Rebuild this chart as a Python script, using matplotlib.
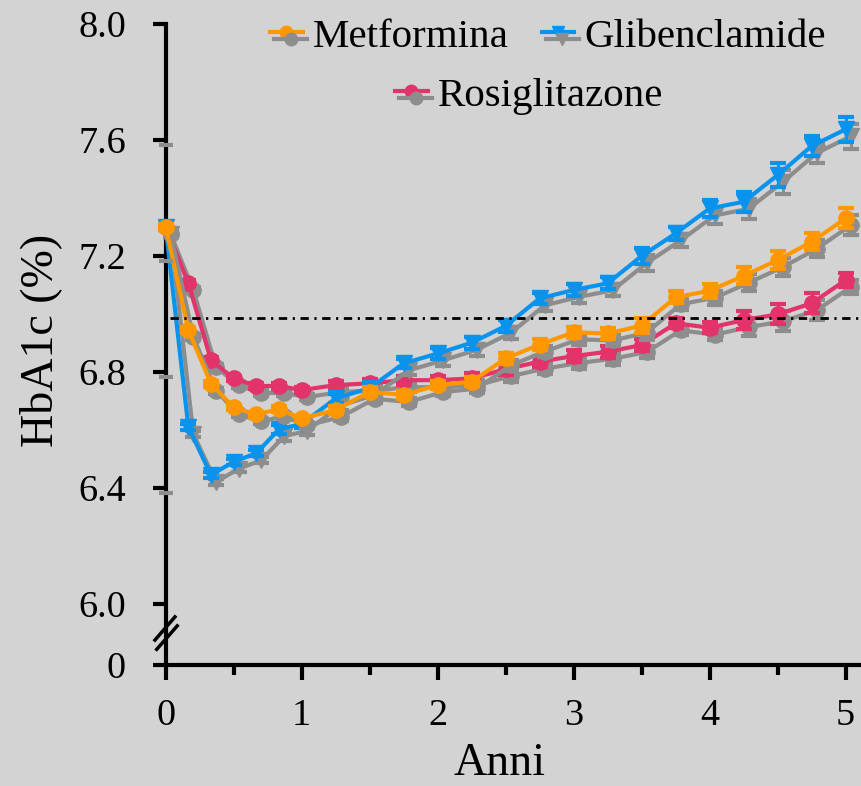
import numpy as np
import matplotlib
matplotlib.use('Agg')
import matplotlib.pyplot as plt
import matplotlib.transforms as mtransforms
from matplotlib.lines import Line2D
from matplotlib.legend_handler import HandlerLine2D
from matplotlib.ticker import MultipleLocator

plt.rcParams['font.family'] = 'Liberation Serif'

# tempo (anni)
anni = [0, 1/6, 1/3, 0.5, 2/3, 5/6, 1.0, 1.25, 1.5, 1.75, 2.0, 2.25, 2.5,
        2.75, 3.0, 3.25, 3.5, 3.75, 4.0, 4.25, 4.5, 4.75, 5.0]

# HbA1c medio (%)
metformina = [7.30, 6.945, 6.76, 6.678, 6.654, 6.672, 6.64, 6.669, 6.732, 6.721, 6.755, 6.767,
              6.847, 6.895, 6.937, 6.933, 6.96, 7.058, 7.08, 7.132, 7.186, 7.249, 7.33]
glibenclamide = [7.30, 6.611, 6.445, 6.491, 6.52, 6.603, 6.621, 6.709, 6.745, 6.83, 6.864, 6.901,
                 6.959, 7.054, 7.083, 7.106, 7.20, 7.278, 7.364, 7.387, 7.479, 7.579, 7.637]
rosiglitazone = [7.30, 7.106, 6.841, 6.778, 6.752, 6.752, 6.738, 6.755, 6.761, 6.772, 6.772, 6.778,
                 6.81, 6.836, 6.855, 6.87, 6.893, 6.968, 6.953, 6.979, 6.999, 7.037, 7.117]

# errore standard
err_met = [0.01, 0.01, 0.01, 0.01, 0.01, 0.01, 0.01, 0.015, 0.015, 0.015, 0.015, 0.015,
           0.02, 0.02, 0.02, 0.02, 0.025, 0.02, 0.025, 0.029, 0.032, 0.029, 0.034]
err_gli = [0.01, 0.01, 0.01, 0.01, 0.01, 0.015, 0.015, 0.015, 0.015, 0.015, 0.02, 0.02,
           0.02, 0.02, 0.02, 0.02, 0.026, 0.023, 0.029, 0.034, 0.04, 0.034, 0.044]
err_ros = [0.01, 0.01, 0.01, 0.01, 0.01, 0.01, 0.01, 0.015, 0.015, 0.015, 0.015, 0.02,
           0.02, 0.02, 0.02, 0.02, 0.02, 0.017, 0.02, 0.032, 0.034, 0.034, 0.025]

target = 6.985
ytick_pos = [5.79, 6.0, 6.4, 6.8, 7.2, 7.6, 8.0]
ytick_lab = ['0', '6.0', '6.4', '6.8', '7.2', '7.6', '8.0']

BG = '#d3d3d3'
GRAY = '#8d8d8d'
ORANGE = '#ff9800'
BLUE = '#0a93ec'
RED = '#e2336b'


class ShadowHandler(HandlerLine2D):
    # linea colorata + copia grigia spostata
    def create_artists(self, legend, orig_handle, xdescent, ydescent, width, height, fontsize, trans):
        col, grey = orig_handle
        a = super().create_artists(legend, col, xdescent, ydescent, width, height, fontsize, trans)
        b = super().create_artists(legend, grey, xdescent - 3, ydescent + 10, width, height, fontsize, trans)
        return a + b


fig = plt.figure(figsize=(8.62, 7.86), dpi=100, facecolor=BG)
ax = fig.add_axes([0.1922, 0.1539, 0.8078, 0.8156])
ax.set_facecolor(BG)

shadow = mtransforms.offset_copy(ax.transData, fig=fig, x=5, y=-7, units='dots')

series = [(rosiglitazone, err_ros, RED, 'o', 11),
          (glibenclamide, err_gli, BLUE, 'v', 12),
          (metformina, err_met, ORANGE, 'o', 11)]
z = 3
for vals, err, col, mk, ms in series:
    for c, tr in [(GRAY, shadow), (col, ax.transData)]:
        ax.errorbar(anni, vals, yerr=err, color=c, marker=mk, ms=ms, mec=c, lw=3,
                    elinewidth=2.2, capsize=5.5, capthick=3, transform=tr,
                    clip_on=False, zorder=z)
        z += 0.5

ax.axhline(target, xmin=0.006, xmax=1, color='black', lw=2, ls=(0, (3, 2, 0.8, 2)), zorder=10)

ax.set_xlim(0, 5.12)
ax.set_ylim(5.79, 8.0)
ax.set_xticks(range(6))
ax.xaxis.set_minor_locator(MultipleLocator(0.5))
ax.set_yticks(ytick_pos)
ax.set_yticklabels(ytick_lab)

for s in ['top', 'right']:
    ax.spines[s].set_visible(False)
for s in ['left', 'bottom']:
    ax.spines[s].set_linewidth(3)

ax.tick_params(axis='y', length=9.5, width=3, pad=19, labelsize=27.5)
ax.tick_params(axis='x', which='major', length=11, width=3, pad=13, labelsize=27.5)
ax.tick_params(axis='x', which='minor', length=7, width=3)

# ombra grigia delle tacche dell'asse y
shadow_y = mtransforms.offset_copy(ax.transData, fig=fig, x=0, y=-5, units='dots')
ax.plot(np.zeros(4), ytick_pos[2:6], ls='none', marker='_', ms=10, mew=3, color=GRAY,
        transform=shadow_y, clip_on=False, zorder=9)

# interruzione dell'asse
ax.plot([-0.079, 0.068], [5.876, 5.956], color='black', lw=2.5, clip_on=False, zorder=10)
ax.plot([-0.066, 0.085], [5.844, 5.925], color='black', lw=2.5, clip_on=False, zorder=10)

ax.set_xlabel('Anni', fontsize=33)
ax.xaxis.set_label_coords(0.48, -0.121)
ax.set_ylabel('HbA1c (%)', fontsize=33)
ax.yaxis.set_label_coords(-0.149, 0.507)

def proxy(col, mk):
    return Line2D([], [], color=col, marker=mk, ms=9, lw=3)

h_met = (proxy(ORANGE, 'o'), proxy(GRAY, 'o'))
h_gli = (proxy(BLUE, 'v'), proxy(GRAY, 'v'))
h_ros = (proxy(RED, 'o'), proxy(GRAY, 'o'))

leg1 = fig.legend([h_met, h_gli], ['Metformina', 'Glibenclamide'], ncol=2,
                  handler_map={tuple: ShadowHandler()}, loc='upper left',
                  bbox_to_anchor=(270 / 862, 1 - 18 / 786), frameon=False, fontsize=29.5,
                  borderpad=0, borderaxespad=0, handlelength=0.8, handletextpad=0.25,
                  columnspacing=0.8)
leg2 = fig.legend([h_ros], ['Rosiglitazone'],
                  handler_map={tuple: ShadowHandler()}, loc='upper left',
                  bbox_to_anchor=(395 / 862, 1 - 77 / 786), frameon=False, fontsize=29.5,
                  borderpad=0, borderaxespad=0, handlelength=0.8, handletextpad=0.25)

fig.savefig('out.png', dpi=100, facecolor=BG)
